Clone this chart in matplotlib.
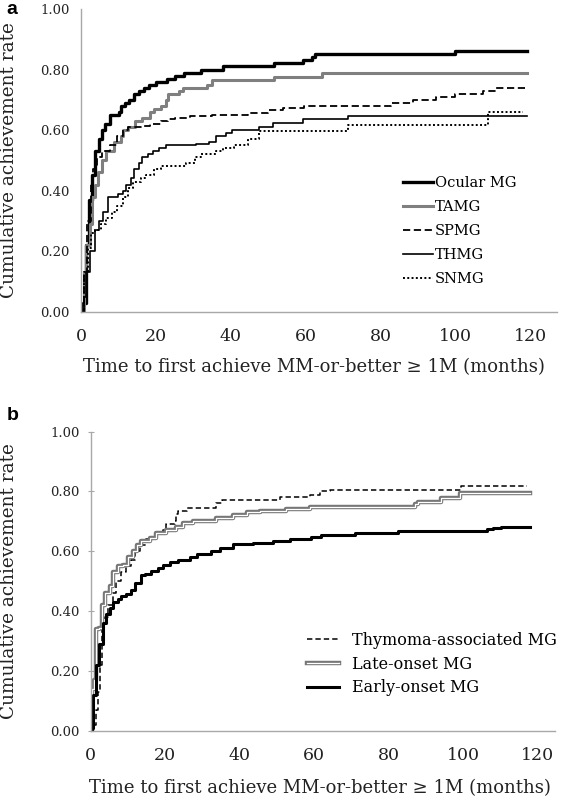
import matplotlib
matplotlib.use("Agg")
import matplotlib.pyplot as plt

# ---------------- Panel a data ----------------
ocular_t = [0, 0.4, 1.3, 2.2, 2.8, 3.8, 4.9, 5.6, 6.5, 7.6, 10.2, 10.7, 11.6, 12.9, 14.2, 15.6, 16.9,
            18.2, 20.0, 23.0, 25.0, 27.5, 32.0, 38.0, 51.5, 59.3, 61.5, 62.4, 99.7, 119.0]
ocular_v = [0, 0.03, 0.22, 0.37, 0.45, 0.53, 0.57, 0.60, 0.62, 0.65, 0.66, 0.68, 0.69, 0.70, 0.72, 0.73, 0.74,
            0.75, 0.76, 0.77, 0.78, 0.79, 0.80, 0.81, 0.823, 0.831, 0.842, 0.851, 0.862, 0.862]

tamg_t = [0, 0.9, 1.4, 2.3, 3.0, 3.8, 4.6, 5.7, 6.7, 8.7, 10.6, 11.1, 12.5, 14.5, 16.4, 18.4, 19.4, 21.3,
          22.8, 23.2, 26.2, 27.1, 33.5, 34.9, 51.5, 64.2, 119.0]
tamg_v = [0, 0.13, 0.22, 0.29, 0.38, 0.42, 0.46, 0.50, 0.53, 0.56, 0.58, 0.60, 0.61, 0.63, 0.64, 0.66, 0.67, 0.68,
          0.70, 0.72, 0.73, 0.74, 0.75, 0.765, 0.776, 0.788, 0.788]

spmg_t = [0, 0.9, 1.7, 2.6, 3.3, 4.3, 5.7, 7.7, 9.6, 11.1, 12.5, 16.4, 18.4, 21.3, 23.2, 25.2, 29.1, 34.9,
          44.6, 50.0, 53.9, 59.4, 82.8, 88.6, 94.8, 99.7, 107.3, 110.8, 118.4]
spmg_v = [0, 0.12, 0.30, 0.43, 0.47, 0.51, 0.53, 0.55, 0.58, 0.60, 0.61, 0.615, 0.62, 0.63, 0.635, 0.64, 0.645, 0.65,
          0.655, 0.665, 0.674, 0.68, 0.688, 0.70, 0.71, 0.72, 0.728, 0.738, 0.738]

thmg_t = [0, 0.9, 1.4, 2.3, 3.6, 4.9, 5.8, 7.1, 9.8, 11.1, 12.0, 13.3, 14.2, 15.6, 16.4, 17.8, 19.1, 20.9,
          22.7, 30.7, 34.2, 36.0, 38.7, 40.4, 47.6, 51.1, 59.3, 71.3, 119.0]
thmg_v = [0, 0.05, 0.13, 0.20, 0.27, 0.30, 0.33, 0.38, 0.39, 0.40, 0.42, 0.44, 0.47, 0.49, 0.51, 0.52, 0.53, 0.54,
          0.55, 0.555, 0.56, 0.58, 0.59, 0.60, 0.61, 0.624, 0.636, 0.648, 0.648]

snmg_t = [0, 0.9, 1.8, 2.6, 3.8, 5.3, 6.7, 8.2, 9.6, 11.1, 12.5, 14.0, 16.0, 17.4, 19.4, 21.3, 28.1, 30.5,
          32.0, 35.9, 37.8, 40.8, 44.6, 47.6, 71.3, 108.6, 118.0]
snmg_v = [0, 0.13, 0.21, 0.26, 0.27, 0.29, 0.31, 0.33, 0.35, 0.38, 0.41, 0.43, 0.44, 0.45, 0.47, 0.48, 0.49, 0.51,
          0.52, 0.53, 0.54, 0.55, 0.57, 0.597, 0.617, 0.659, 0.659]

# ---------------- Panel b data ----------------
thym_t = [0, 0.6, 1.3, 2.0, 2.4, 2.9, 3.8, 4.7, 6.0, 6.9, 8.2, 9.6, 10.9, 11.8, 13.2, 14.9, 17.6, 19.4, 20.3,
          22.6, 23.0, 23.4, 25.7, 33.7, 35.1, 50.7, 58.8, 61.5, 64.2, 99.4, 117.0]
thym_v = [0, 0.02, 0.07, 0.13, 0.22, 0.36, 0.38, 0.42, 0.46, 0.50, 0.53, 0.55, 0.57, 0.60, 0.62, 0.64, 0.66, 0.67, 0.69,
          0.70, 0.725, 0.735, 0.745, 0.76, 0.77, 0.781, 0.788, 0.80, 0.806, 0.818, 0.818]

late_t = [0, 0.4, 0.9, 1.3, 2.2, 2.9, 3.8, 5.1, 6.0, 7.3, 8.7, 10.0, 11.4, 12.3, 13.6, 15.8, 17.6, 20.3, 23.0,
          24.8, 27.5, 33.7, 38.2, 41.8, 45.4, 52.5, 58.8, 87.0, 87.8, 94.1, 99.0, 117.8]
late_v = [0, 0.14, 0.17, 0.34, 0.345, 0.42, 0.46, 0.485, 0.53, 0.55, 0.555, 0.58, 0.60, 0.62, 0.635, 0.645, 0.66, 0.67,
          0.68, 0.695, 0.70, 0.71, 0.72, 0.73, 0.735, 0.74, 0.749, 0.758, 0.766, 0.777, 0.796, 0.796]

early_t = [0, 0.3, 0.6, 1.3, 2.2, 3.3, 4.2, 5.1, 6.0, 7.3, 8.2, 9.6, 10.9, 11.8, 13.6, 14.5, 16.3, 18.1, 19.4,
           21.2, 23.4, 26.6, 28.4, 32.4, 34.6, 38.2, 43.6, 48.9, 53.4, 59.2, 61.9, 70.9, 82.5, 106.2, 108.0,
           110.2, 118.0]
early_v = [0, 0.01, 0.12, 0.218, 0.29, 0.36, 0.39, 0.41, 0.43, 0.44, 0.45, 0.458, 0.47, 0.495, 0.52, 0.525, 0.534,
           0.545, 0.553, 0.564, 0.572, 0.58, 0.592, 0.60, 0.612, 0.623, 0.628, 0.635, 0.64, 0.649, 0.654, 0.662,
           0.667, 0.674, 0.678, 0.682, 0.682]

x_ticks = [0, 20, 40, 60, 80, 100, 120]
y_ticks = [0.0, 0.2, 0.4, 0.6, 0.8, 1.0]
x_label = "Time to first achieve MM-or-better \u2265 1M (months)"
y_label = "Cumulative achievement rate"

SERIF = ["DejaVu Serif"]
plt.rcParams["font.family"] = SERIF
SPINE = "#a8a8a8"
TXT = "#222222"

fig = plt.figure(figsize=(5.67, 8.01), dpi=100)


def style_axes(ax, xmax, ticklen, ypad, ylab_x, xlab_xy):
    ax.set_xlim(0, xmax)
    ax.set_ylim(0, 1.0)
    ax.set_xticks(x_ticks)
    ax.set_yticks(y_ticks)
    ax.set_yticklabels([f"{v:.2f}" for v in y_ticks])
    for s in ("top", "right"):
        ax.spines[s].set_visible(False)
    for s in ("left", "bottom"):
        ax.spines[s].set_color(SPINE)
        ax.spines[s].set_linewidth(1.0)
    ax.tick_params(axis="y", labelsize=9.5, length=ticklen, direction="inout", color=SPINE, pad=ypad,
                   labelcolor=TXT)
    ax.tick_params(axis="x", labelsize=12.5, length=0, pad=12, labelcolor=TXT)
    ax.set_xlabel(x_label, fontsize=13, color=TXT)
    ax.set_ylabel(y_label, fontsize=13.3, color=TXT)
    ax.yaxis.set_label_coords(ylab_x, 0.5)
    ax.xaxis.set_label_coords(*xlab_xy)


# ---------------- Panel a ----------------
axa = fig.add_axes([0.1429, 0.6109, 0.8395, 0.3779])
l1, = axa.step(ocular_t, ocular_v, where="post", color="black", lw=2.4, label="Ocular MG")
l2, = axa.step(tamg_t, tamg_v, where="post", color="#7f7f7f", lw=2.2, label="TAMG")
l3, = axa.step(spmg_t, spmg_v, where="post", color="black", lw=1.3, ls=(0, (4, 2)), label="SPMG")
l4, = axa.step(thmg_t, thmg_v, where="post", color="black", lw=1.2, label="THMG")
l5, = axa.step(snmg_t, snmg_v, where="post", color="black", lw=1.4, ls=(0, (1, 1.2)), label="SNMG")
style_axes(axa, 127, 0, 8, -0.132, (0.49, -0.153))
axa.legend(handles=[l1, l2, l3, l4, l5], loc="upper left", bbox_to_anchor=(0.665, 0.466),
           frameon=False, fontsize=10.5, handlelength=2.0, handletextpad=0.15, labelspacing=0.68,
           borderaxespad=0)
fig.text(0.012, 0.999, "a", fontsize=14, fontweight="bold", family="Liberation Sans", va="top")

# ---------------- Panel b ----------------
axb = fig.add_axes([0.16, 0.0878, 0.819, 0.3733])
m1, = axb.step(thym_t, thym_v, where="post", color="black", lw=1.1, ls=(0, (3.5, 2)),
               label="Thymoma-associated MG")
m2a, = axb.step(late_t, late_v, where="post", color="#777777", lw=3.2)
m2b, = axb.step(late_t, late_v, where="post", color="white", lw=0.9)
m3, = axb.step(early_t, early_v, where="post", color="black", lw=2.2, label="Early-onset MG")
style_axes(axb, 124.6, 4, 6, -0.157, (0.493, -0.162))
axb.legend(handles=[m1, (m2a, m2b), m3], labels=["Thymoma-associated MG", "Late-onset MG", "Early-onset MG"],
           loc="upper left", bbox_to_anchor=(0.452, 0.352), frameon=False, fontsize=11.5,
           handlelength=2.0, handletextpad=0.8, labelspacing=0.42, borderaxespad=0)
fig.text(0.012, 0.492, "b", fontsize=14, fontweight="bold", family="Liberation Sans", va="top")

fig.savefig("out.png", dpi=100)
